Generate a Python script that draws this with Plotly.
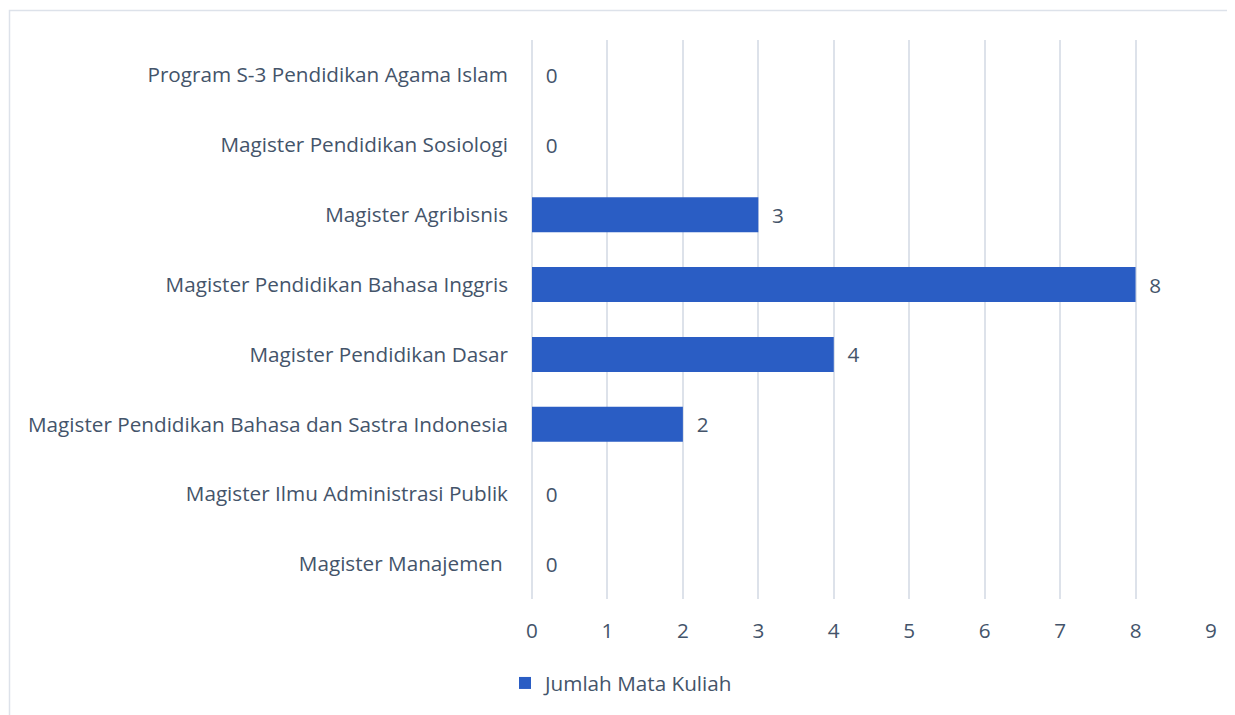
import plotly.graph_objects as go

categories = [
    "Magister Manajemen ",
    "Magister Ilmu Administrasi Publik",
    "Magister Pendidikan Bahasa dan Sastra Indonesia",
    "Magister Pendidikan Dasar",
    "Magister Pendidikan Bahasa Inggris",
    "Magister Agribisnis",
    "Magister Pendidikan Sosiologi",
    "Program S-3 Pendidikan Agama Islam",
]
values = [0, 0, 2, 4, 8, 3, 0, 0]
series_name = "Jumlah Mata Kuliah"
x_ticks = [0, 1, 2, 3, 4, 5, 6, 7, 8, 9]

TEXT = "#44546A"
FONT = "Open Sans"
FS = 20.7

fig = go.Figure()
fig.add_trace(go.Bar(
    y=categories,
    x=values,
    orientation="h",
    name=series_name,
    marker=dict(color="#2A5DC4", line=dict(width=0)),
    text=["\u00a0\u00a0" + str(v) for v in values],
    textposition="outside",
    textfont=dict(color=TEXT, size=FS, family=FONT),
    cliponaxis=False,
    showlegend=True,
))

# page body has an 8px margin; figure sized to fit the window
W, H = 1227, 707
L, R, T, B = 524, 24, 32, 116
pw, ph = W - L - R, H - T - B

fig.update_layout(
    width=W, height=H,
    margin=dict(l=L, r=R, t=T, b=B),
    paper_bgcolor="white",
    plot_bgcolor="white",
    font=dict(family=FONT, color=TEXT, size=FS),
    bargap=0.5,
    xaxis=dict(
        range=[0, 9],
        tickvals=x_ticks,
        showgrid=True,
        gridcolor="#DDE2EA",
        gridwidth=1.5,
        zeroline=True,
        zerolinecolor="#DDE2EA",
        zerolinewidth=1.5,
        showline=False,
        ticks="",
        ticklabelstandoff=17,
        tickfont=dict(size=FS, color=TEXT, family=FONT),
        fixedrange=True,
    ),
    yaxis=dict(
        showgrid=False,
        zeroline=False,
        showline=False,
        ticks="",
        ticklabelstandoff=23,
        tickfont=dict(size=FS, color=TEXT, family=FONT),
    ),
    showlegend=True,
    legend=dict(
        orientation="h",
        x=-27 / pw,
        xanchor="left",
        y=(H - B - 675) / ph,
        yanchor="middle",
        font=dict(size=FS, color=TEXT, family=FONT),
        itemsizing="constant",
    ),
    shapes=[dict(
        type="rect", xref="paper", yref="paper",
        x0=(1.5 - L) / pw, x1=(W + 5 - L) / pw,
        y0=(H - B - (H + 5)) / ph, y1=(H - B - 2.5) / ph,
        line=dict(color="#DDE2EA", width=1.5),
        fillcolor="rgba(0,0,0,0)",
        layer="below",
    )],
)

fig.write_html("out.html")
